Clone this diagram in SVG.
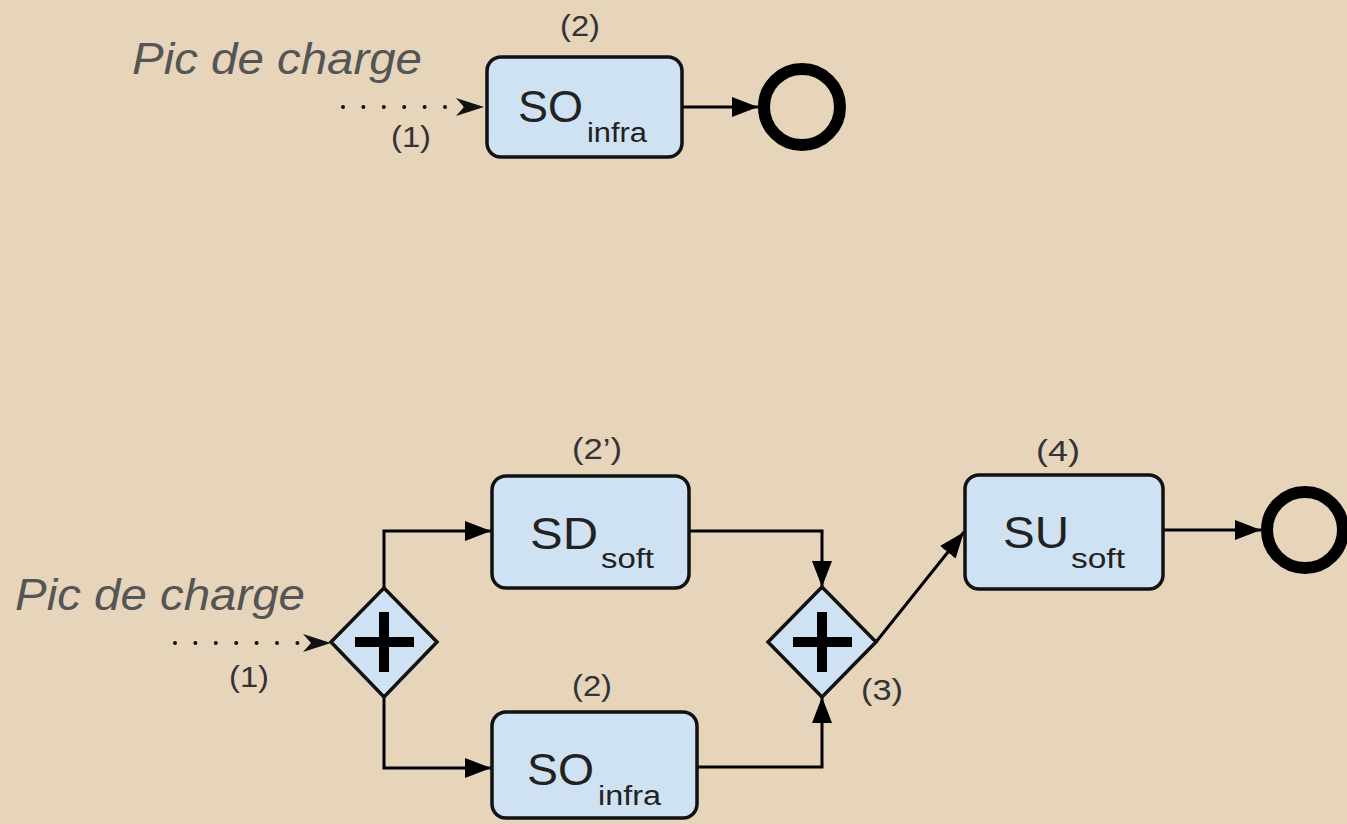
<svg xmlns="http://www.w3.org/2000/svg" width="1347" height="824" viewBox="0 0 1347 824">
<defs>
<style>
.bg{fill:#e6d5bb}
.task{fill:#cfe2f3;stroke:#111;stroke-width:3.5}
.gw{fill:#cfe2f3;stroke:#111;stroke-width:3.5}
.plus{stroke:#000;stroke-width:10;fill:none}
.end{fill:none;stroke:#000;stroke-width:12}
.flow{fill:none;stroke:#000;stroke-width:3}
.dot{fill:none;stroke:#111;stroke-width:4;stroke-linecap:round;stroke-dasharray:0 20.4}
.main{font-family:"Liberation Sans",Arial,sans-serif;font-size:44px;fill:#222}
.sub{font-family:"Liberation Sans",Arial,sans-serif;font-size:27px;fill:#222}
.lbl{font-family:"Liberation Sans",Arial,sans-serif;font-size:29px;fill:#333;text-anchor:middle}
.pic{font-family:"Liberation Sans",Arial,sans-serif;font-size:44px;font-style:italic;fill:#555}
</style>
<marker id="arr" markerUnits="userSpaceOnUse" markerWidth="28" markerHeight="22" refX="26" refY="10" orient="auto" viewBox="0 0 28 20">
<path d="M0,0 L26,10 L0,20 z" fill="#000"/>
</marker>
<marker id="open" markerUnits="userSpaceOnUse" markerWidth="30" markerHeight="22" refX="28" refY="10" orient="auto" viewBox="0 0 30 20">
<path d="M0,1 L28,10 L0,19 L8,10 z" fill="#111"/>
</marker>
</defs>
<rect class="bg" x="0" y="0" width="1347" height="824"/>

<g id="connectors">
<path class="dot" d="M343,107 H484" marker-end="url(#open)"/>
<path class="flow" d="M682,107 H758" marker-end="url(#arr)"/>
<path class="dot" d="M175,643 H331" marker-end="url(#open)"/>
<path class="flow" d="M384,588 V531 H491" marker-end="url(#arr)"/>
<path class="flow" d="M384,697 V768 H491" marker-end="url(#arr)"/>
<path class="flow" d="M690,531 H822 V587" marker-end="url(#arr)"/>
<path class="flow" d="M697,767 H822 V697" marker-end="url(#arr)"/>
<path class="flow" d="M876,642 L964,532" marker-end="url(#arr)"/>
<path class="flow" d="M1163,530 H1261" marker-end="url(#arr)"/>
</g>

<g id="labels">
<text class="pic" x="132" y="74" textLength="290" lengthAdjust="spacingAndGlyphs">Pic de charge</text>
<text class="lbl" x="411" y="147" textLength="40" lengthAdjust="spacingAndGlyphs">(1)</text>
<text class="pic" x="15" y="610" textLength="290" lengthAdjust="spacingAndGlyphs">Pic de charge</text>
<text class="lbl" x="249" y="687" textLength="40" lengthAdjust="spacingAndGlyphs">(1)</text>
<text class="lbl" x="882" y="700" textLength="42" lengthAdjust="spacingAndGlyphs">(3)</text>
</g>

<g id="task-top">
<text class="lbl" x="580" y="36" textLength="40" lengthAdjust="spacingAndGlyphs">(2)</text>
<rect class="task" x="487" y="57" width="195" height="100" rx="14"/>
<text class="main" x="518" y="122" textLength="65" lengthAdjust="spacingAndGlyphs">SO</text>
<text class="sub" x="587" y="142" textLength="60" lengthAdjust="spacingAndGlyphs">infra</text>
</g>

<g id="end-top">
<circle class="end" cx="802" cy="107" r="38"/>
</g>

<g id="gateway-split">
<path class="gw" d="M384,588 L437,642 L384,697 L331,642 z"/>
<path class="plus" d="M355,642 H414 M384,612 V672"/>
</g>

<g id="task-sd">
<text class="lbl" x="597" y="459" textLength="50" lengthAdjust="spacingAndGlyphs">(2’)</text>
<rect class="task" x="492" y="476" width="197" height="112" rx="14"/>
<text class="main" x="530" y="549" textLength="68" lengthAdjust="spacingAndGlyphs">SD</text>
<text class="sub" x="601" y="568" textLength="53" lengthAdjust="spacingAndGlyphs">soft</text>
</g>

<g id="task-so">
<text class="lbl" x="592" y="696" textLength="40" lengthAdjust="spacingAndGlyphs">(2)</text>
<rect class="task" x="492" y="712" width="205" height="106" rx="14"/>
<text class="main" x="527" y="785" textLength="67" lengthAdjust="spacingAndGlyphs">SO</text>
<text class="sub" x="598" y="805" textLength="63" lengthAdjust="spacingAndGlyphs">infra</text>
</g>

<g id="gateway-join">
<path class="gw" d="M822,587 L876,642 L822,697 L768,642 z"/>
<path class="plus" d="M793,642 H852 M822,612 V672"/>
</g>

<g id="task-su">
<text class="lbl" x="1058" y="461" textLength="44" lengthAdjust="spacingAndGlyphs">(4)</text>
<rect class="task" x="965" y="475" width="198" height="114" rx="14"/>
<text class="main" x="1003" y="548" textLength="66" lengthAdjust="spacingAndGlyphs">SU</text>
<text class="sub" x="1071" y="568" textLength="54" lengthAdjust="spacingAndGlyphs">soft</text>
</g>

<g id="end-bottom">
<circle class="end" cx="1305" cy="530" r="38"/>
</g>
</svg>
